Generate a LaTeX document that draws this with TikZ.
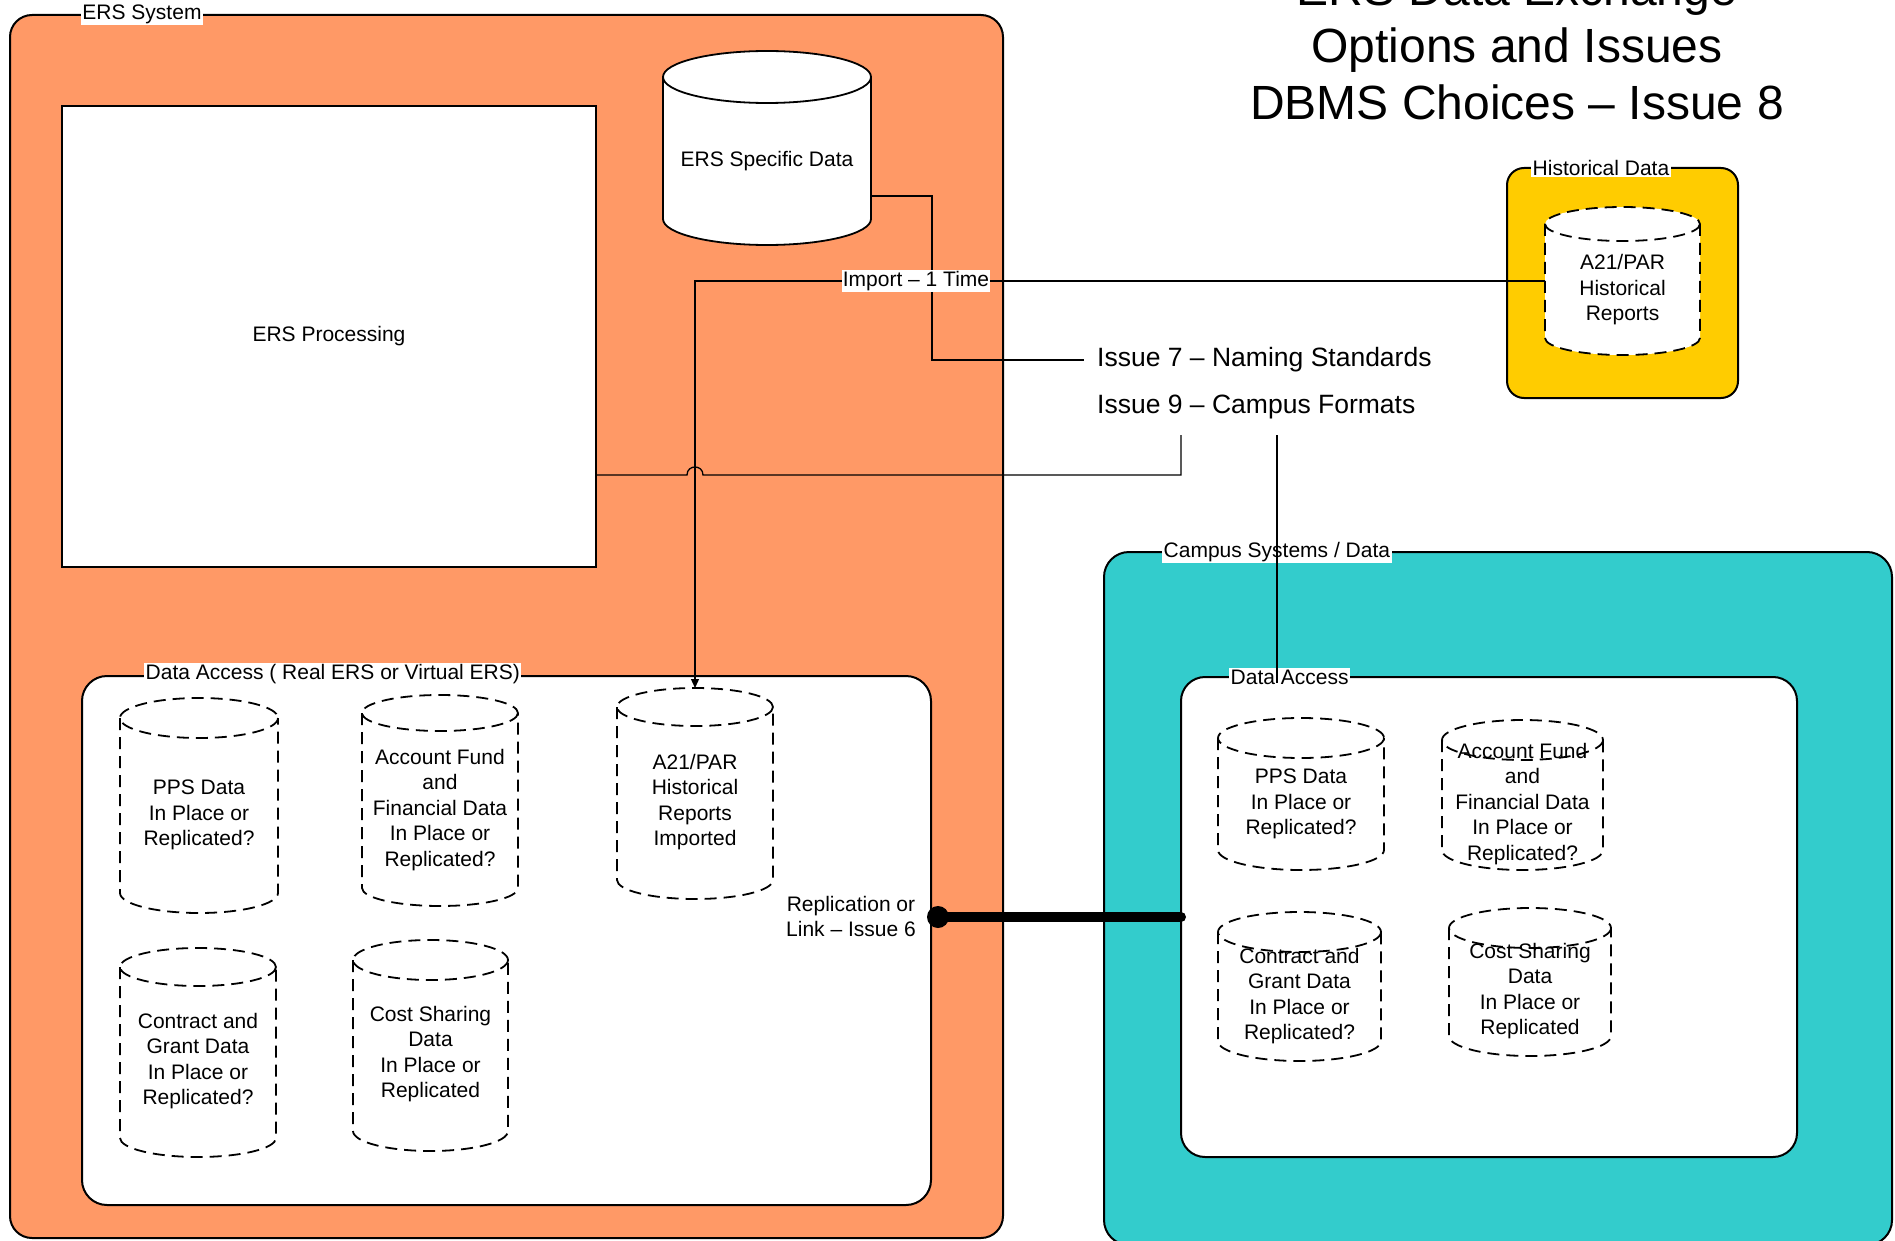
\documentclass[tikz,border=0pt]{standalone}
\usepackage{fontspec}
\setmainfont{Liberation Sans}
\usetikzlibrary{arrows.meta}
\definecolor{ersorange}{HTML}{FF9966}
\definecolor{histgold}{HTML}{FFCC00}
\definecolor{campteal}{HTML}{33CCCC}

\newcommand\dbcyl[9]{%
  \pgfmathsetmacro\cylcx{(#2+#3)/2}%
  \pgfmathsetmacro\cylrx{(#3-#2)/2}%
  \pgfmathsetmacro\cylyt{#4+#6}%
  \pgfmathsetmacro\cylyb{#5-#6}%
  \pgfmathsetmacro\cylkx{0.5523*\cylrx}%
  \pgfmathsetmacro\cylky{#5-#6+0.5523*#6}%
  \pgfmathsetmacro\cylw{#3-#2}%
  \pgfmathsetmacro\cylh{#5-#4}%
  \pgfmathsetmacro\cylcy{(#4+#5)/2}%
  \fill[white] (#2,\cylyt) -- (#2,\cylyb) .. controls (#2,\cylky) and (\cylcx-\cylkx,#5) .. (\cylcx,#5) .. controls (\cylcx+\cylkx,#5) and (#3,\cylky) .. (#3,\cylyb) -- (#3,\cylyt) -- cycle;
  \fill[white] (\cylcx,\cylyt) ellipse[x radius=\cylrx, y radius=#6];
  \draw[cylline,#7] (#2,\cylyt) -- (#2,\cylyb) .. controls (#2,\cylky) and (\cylcx-\cylkx,#5) .. (\cylcx,#5) .. controls (\cylcx+\cylkx,#5) and (#3,\cylky) .. (#3,\cylyb) -- (#3,\cylyt);
  \draw[cylline,#7] (\cylcx,\cylyt) ellipse[x radius=\cylrx, y radius=#6];
  \node[inner sep=0pt, outer sep=0pt, minimum width=\cylw pt, minimum height=\cylh pt] (#1) at (\cylcx,\cylcy) {};
  \node[cyltext] (#1-t) at (\cylcx,#8) {#9};
}

\begin{document}
\begin{tikzpicture}[x=1pt, y=-1pt,
  every node/.style={font=\fontsize{21}{25.5}\selectfont},
  box/.style={draw=black, line width=2pt, inner sep=0pt, outer sep=0pt},
  lbl/.style={fill=white, inner sep=1.5pt},
  cyltext/.style={align=center, inner sep=0pt},
  cylline/.style={line width=1.8pt, black},
  dsh/.style={dash pattern=on 12pt off 7pt},
  conn/.style={line width=1.3pt, black},
  issue/.style={font=\fontsize{26.5}{32}\selectfont, inner xsep=13pt, inner ysep=16pt, anchor=west},
  titlestyle/.style={font=\fontsize{48}{57}\selectfont, align=center, inner sep=0pt}
]
\useasboundingbox (0,0) rectangle (1895,1241);

% ERS system
\node[box, fill=ersorange, rounded corners=22pt, minimum width=993pt, minimum height=1223pt] (ers) at (506.5,626.5) {};
\node[lbl] (ersl) at (142,14) {ERS System};
\node[box, fill=white, line width=2.5pt, minimum width=534pt, minimum height=461pt] (ersp) at (329,336.5) {ERS Processing};
\dbcyl{esd}{663}{871}{51}{245}{26}{solid}{161}{ERS Specific Data}

% ERS data access
\node[box, fill=white, rounded corners=25pt, minimum width=849pt, minimum height=529pt] (eda) at (506.5,940.5) {};
\node[lbl, anchor=west] (edal) at (144,674) {Data Access ( Real ERS or Virtual ERS)};
\dbcyl{ppsE}{120}{278}{698}{913}{20}{dsh}{815}{PPS Data\\In Place or\\Replicated?}
\dbcyl{accE}{362}{518}{695}{906}{18}{dsh}{810}{Account Fund\\and\\Financial Data\\In Place or\\Replicated?}
\dbcyl{a21E}{617}{773}{688}{899}{19}{dsh}{802}{A21/PAR\\Historical\\Reports\\Imported}
\dbcyl{conE}{120}{276}{948}{1157}{19}{dsh}{1061}{Contract and\\Grant Data\\In Place or\\Replicated?}
\dbcyl{cstE}{353}{508}{940}{1151}{20}{dsh}{1054}{Cost Sharing\\Data\\In Place or\\Replicated}
\node[align=center, inner sep=0pt] (repl) at (851,916.5) {Replication or\\Link – Issue 6};

% Historical data
\node[box, fill=histgold, rounded corners=17pt, minimum width=231pt, minimum height=230pt] (hist) at (1622.5,283) {};
\node[lbl, anchor=west] (histl) at (1531,168) {Historical Data};
\dbcyl{hcyl}{1545}{1700}{207}{355}{17}{dsh}{290}{A21/PAR\\Historical\\Reports}

% Campus systems
\node[box, fill=campteal, rounded corners=25pt, minimum width=788pt, minimum height=693pt] (camp) at (1498,898.5) {};
\node[lbl, anchor=west] (campl) at (1162,552) {Campus Systems / Data};
\node[box, fill=white, rounded corners=24pt, minimum width=616pt, minimum height=480pt] (cda) at (1489,917) {};
\node[lbl, anchor=west] (cdal) at (1229,677) {Data Access};
\dbcyl{ppsC}{1218}{1384}{718}{870}{20}{dsh}{804}{PPS Data\\In Place or\\Replicated?}
\dbcyl{accC}{1442}{1603}{720}{870}{20}{dsh}{804}{Account Fund\\and\\Financial Data\\In Place or\\Replicated?}
\dbcyl{conC}{1218}{1381}{912}{1061}{20}{dsh}{996}{Contract and\\Grant Data\\In Place or\\Replicated?}
\dbcyl{cstC}{1449}{1611}{908}{1056}{20}{dsh}{991}{Cost Sharing\\Data\\In Place or\\Replicated}

% Title and issues
\node[titlestyle] (title) at (1517,45) {ERS Data Exchange\\Options and Issues\\DBMS Choices – Issue 8};
\node[issue] (issue7) at (1084,360) {Issue 7 – Naming Standards};
\node[issue] (issue9) at (1084,407) {Issue 9 – Campus Formats};

% connectors
\coordinate (k1) at (932,196);
\draw[conn] (k1 -| esd.east) -- (k1) |- (issue7.west);
\coordinate (c9a) at (1181,475);
\draw[conn] (c9a -| ersp.east) -- (687,475) .. controls (687,464.3) and (703,464.3) .. (703,475) -- (c9a) -- (c9a |- issue9.south);
\draw[conn, -{Triangle[length=9pt,width=8pt]}] (hcyl.west) -| (a21E.north);
\node[lbl, inner sep=1pt] (imp) at (916,281) {Import – 1 Time};
\coordinate (c9b) at (1277,683);
\draw[conn] (c9b |- issue9.south) -- (c9b);
\node[circle, fill=black, minimum size=22pt, inner sep=0pt] (dot) at (938,917) {};
\draw[line width=10pt, line cap=round] (dot.center) -- (dot.center -| cda.west);
\end{tikzpicture}
\end{document}
